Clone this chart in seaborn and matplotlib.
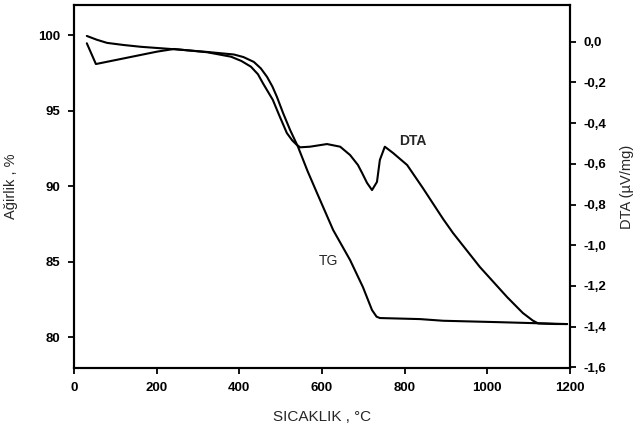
import numpy as np
import pandas as pd
import seaborn as sns
import matplotlib.pyplot as plt

sns.set_style("ticks")
plt.rcParams['font.family'] = ['Liberation Sans', 'DejaVu Sans']

# TG egrisi (sol eksen, %)
tg_temp = [31, 55, 80, 120, 162, 242, 322, 387, 410, 435, 452, 467, 480, 491, 506,
           523, 542, 565, 588, 627, 668, 699, 721, 732, 740, 837, 893, 1023, 1193]
tg_mass = [99.95, 99.7, 99.49, 99.35, 99.23, 99.07, 98.89, 98.72, 98.55, 98.23,
           97.8, 97.24, 96.6, 95.91, 94.83, 93.71, 92.60, 91.0, 89.54, 87.09,
           85.10, 83.31, 81.79, 81.35, 81.26, 81.19, 81.08, 80.99, 80.86]

# DTA egrisi (sag eksen, uV/mg)
dta_temp = [31, 53, 121, 201, 242, 322, 380, 405, 428, 445, 457, 481, 498, 515,
            528, 538, 547, 571, 612, 644, 668, 687, 697, 709, 721, 733, 740, 752,
            772, 806, 844, 893, 917, 982, 1048, 1086, 1110, 1123, 1164, 1193]
dta_val = [-0.008, -0.110, -0.082, -0.049, -0.036, -0.052, -0.074, -0.095, -0.123,
           -0.16, -0.204, -0.286, -0.369, -0.449, -0.485, -0.505, -0.519, -0.516,
           -0.503, -0.516, -0.557, -0.606, -0.645, -0.694, -0.729, -0.689, -0.581,
           -0.516, -0.547, -0.606, -0.719, -0.871, -0.940, -1.107, -1.255, -1.333,
           -1.37, -1.384, -1.387, -1.387]

x_ticks = [0, 200, 400, 600, 800, 1000, 1200]
left_ticks = [80, 85, 90, 95, 100]
right_ticks = [-1.6, -1.4, -1.2, -1.0, -0.8, -0.6, -0.4, -0.2, 0.0]

tg = pd.DataFrame({'T': tg_temp, 'W': tg_mass})
dta = pd.DataFrame({'T': dta_temp, 'D': dta_val})

fig = plt.figure(figsize=(6.36, 4.33), dpi=100)
ax = fig.add_axes([74/636, 1-368/433, (570-74)/636, (368-5)/433])
ax2 = ax.twinx()

sns.lineplot(data=tg, x='T', y='W', ax=ax, color='black', lw=1.5, sort=False)
sns.lineplot(data=dta, x='T', y='D', ax=ax2, color='black', lw=1.5, sort=False)

ax.set_xlim(0, 1200)
ax.set_ylim(77.95, 102)
ax2.set_ylim(-1.603, 0.18)

tick_font = dict(family=['Liberation Sans Narrow', 'Liberation Sans', 'DejaVu Sans'],
                 weight='bold', size=9.5)
ax.set_xticks(x_ticks)
ax.set_xticklabels([str(v) for v in x_ticks], fontdict=tick_font)
ax.set_yticks(left_ticks)
ax.set_yticklabels([str(v) for v in left_ticks], fontdict=tick_font)
ax2.set_yticks(right_ticks)
ax2.set_yticklabels([('%.1f' % v).replace('.', ',') for v in right_ticks], fontdict=tick_font)

for a in (ax, ax2):
    for s in a.spines.values():
        s.set_linewidth(1.5)
        s.set_color('black')
    a.tick_params(direction='out', length=4, width=1.3, colors='black', pad=6)

ax.set_xlabel('SICAKLIK , °C', fontsize=11)
ax.set_ylabel('Ağirlik , %', fontsize=10.5)
ax2.set_ylabel('DTA (µV/mg)', fontsize=10.5, rotation=90)
ax.xaxis.set_label_coords(0.5, -0.115)
ax.yaxis.set_label_coords(-0.113, 0.5)
ax2.yaxis.set_label_coords(1.1, 0.5)

ax.text(615, 85.03, 'TG', fontsize=10, ha='center', va='center')
ax2.text(820, -0.488, 'DTA', fontsize=10, fontweight='bold', ha='center', va='center')

fig.savefig('out.png', dpi=100)
